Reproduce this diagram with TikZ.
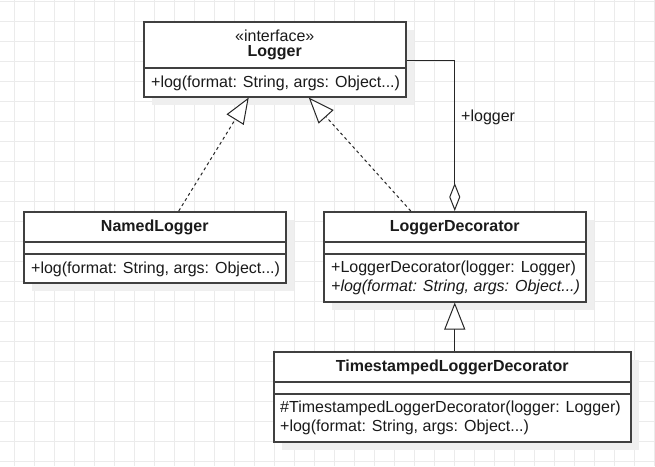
\documentclass[tikz,border=0pt]{standalone}
\usepackage{fontspec}
\setmainfont{Liberation Sans}
\usetikzlibrary{arrows.meta,calc,shadows}
\definecolor{gridc}{HTML}{EBEBEB}
\definecolor{boxc}{HTML}{404040}
\definecolor{shad}{HTML}{EFEFEF}
\definecolor{txtc}{HTML}{1A1A1A}
\definecolor{linec}{HTML}{262626}
\begin{document}
\begin{tikzpicture}[x=1pt,y=-1pt,
  cls/.style={draw=boxc, line width=1.5pt, fill=white, anchor=north west, inner sep=0pt,
    drop shadow={shadow xshift=8pt, shadow yshift=-8pt, fill=shad, opacity=1}},
  divider/.style={draw=boxc, line width=1.5pt},
  lbl/.style={text=txtc, inner sep=0pt, anchor=base, font=\fontsize{16pt}{19pt}\selectfont},
  clsname/.style={lbl, font=\fontsize{16pt}{19pt}\selectfont\bfseries},
  meth/.style={lbl, anchor=base west},
  conn/.style={draw=linec, line width=1pt},
  realize/.style={conn, dash pattern=on 3pt off 3pt, -{Triangle[length=26pt,width=20pt,fill=white,line width=1pt]}},
  inherit/.style={conn, -{Triangle[length=27pt,width=21pt,fill=white,line width=1pt]}},
  aggr/.style={conn, -{Diamond[length=28pt,width=11pt,fill=white,line width=1pt]}}
]
\useasboundingbox (0,0) rectangle (655,466);
\fill[white] (0,0) rectangle (655,466);
\foreach \x in {14,34,...,654} \draw[gridc, line width=1pt] (\x,0) -- (\x,466);
\foreach \y in {1,21,...,461} \draw[gridc, line width=1pt] (0,\y) -- (655,\y);

% Logger
\node[cls, minimum width=262pt, minimum height=75pt] (L) at (143,21) {};
\draw[divider] ($(L.north west)+(0,47)$) -- ($(L.north east)+(0,47)$);
\node[lbl] (Lst) at ($(L.north)+(0,20)$) {«interface»};
\node[clsname] (Ln) at ($(L.north)+(0,35.5)$) {Logger};
\node[meth] (Lm) at ($(L.north west)+(8,66)$) {+log(format: String, args: Object...)};

% NamedLogger
\node[cls, minimum width=262pt, minimum height=71pt] (NL) at (23,211) {};
\draw[divider] ($(NL.north west)+(0,31)$) -- ($(NL.north east)+(0,31)$);
\draw[divider] ($(NL.north west)+(0,43)$) -- ($(NL.north east)+(0,43)$);
\node[clsname] (NLn) at ($(NL.north)+(0,20)$) {NamedLogger};
\node[meth] (NLm) at ($(NL.north west)+(8,62.5)$) {+log(format: String, args: Object...)};

% LoggerDecorator
\node[cls, minimum width=262pt, minimum height=90pt] (LD) at (323,211) {};
\draw[divider] ($(LD.north west)+(0,31)$) -- ($(LD.north east)+(0,31)$);
\draw[divider] ($(LD.north west)+(0,43)$) -- ($(LD.north east)+(0,43)$);
\node[clsname] (LDn) at ($(LD.north)+(0,20)$) {LoggerDecorator};
\node[meth] (LDm1) at ($(LD.north west)+(8,61.5)$) {+LoggerDecorator(logger: Logger)};
\node[meth] (LDm2) at ($(LD.north west)+(8,80.5)$) {\itshape +log(format: String, args: Object...)};

% TimestampedLoggerDecorator
\node[cls, minimum width=357pt, minimum height=90pt] (TS) at (273,351) {};
\draw[divider] ($(TS.north west)+(0,31)$) -- ($(TS.north east)+(0,31)$);
\draw[divider] ($(TS.north west)+(0,43)$) -- ($(TS.north east)+(0,43)$);
\node[clsname] (TSn) at ($(TS.north)+(0,20)$) {TimestampedLoggerDecorator};
\node[meth] (TSm1) at ($(TS.north west)+(7,61.5)$) {\#TimestampedLoggerDecorator(logger: Logger)};
\node[meth] (TSm2) at ($(TS.north west)+(7,80.5)$) {+log(format: String, args: Object...)};

% connectors
\draw[realize] ($(NL.north)+(24,0)$) -- ($(L.south)+(-26,0)$);
\draw[realize] ($(LD.north)+(-44,0)$) -- ($(L.south)+(34,0)$);
\draw[aggr] ($(L.north east)+(0,39)$) -| (LD.north);
\node[lbl, anchor=base west] (agl) at (461,121.5) {+logger};
\draw[inherit] (TS.north -| LD.south) -- (LD.south);
\end{tikzpicture}
\end{document}
